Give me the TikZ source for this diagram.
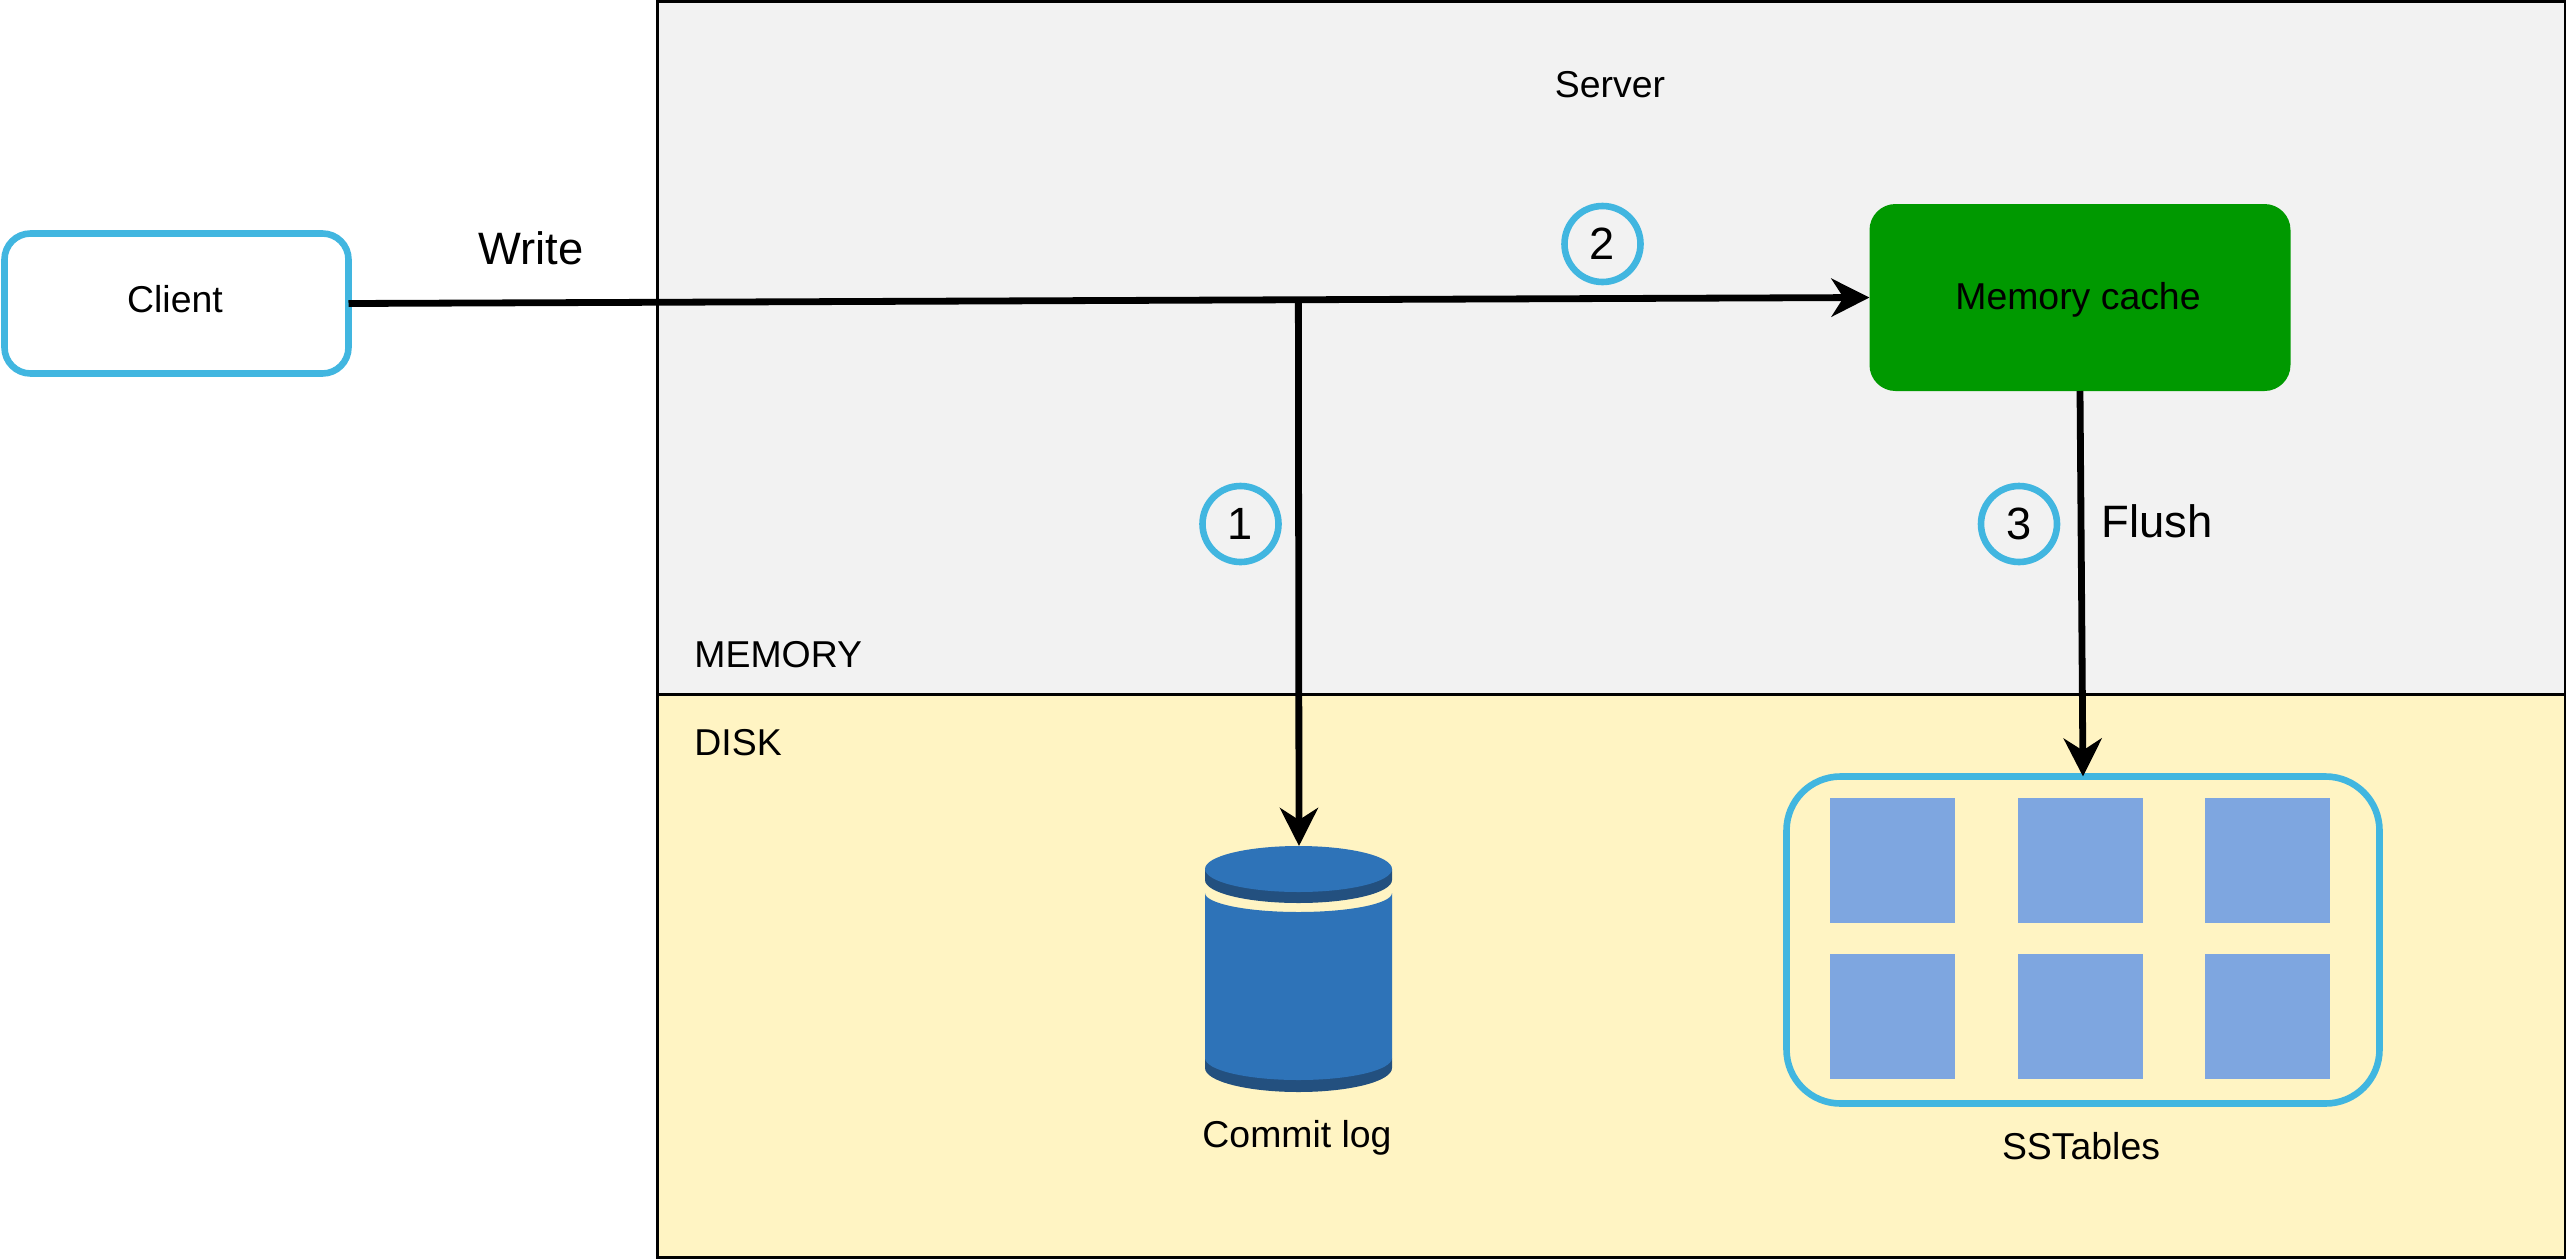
\documentclass[tikz,border=0pt]{standalone}
\usepackage{fontspec}
\setmainfont{Liberation Sans}
\usetikzlibrary{arrows.meta}
\definecolor{sky}{HTML}{41B6E0}
\definecolor{cyl}{HTML}{2E73B8}
\definecolor{cyldark}{HTML}{23507F}
\definecolor{sq}{HTML}{7EA6E0}
\definecolor{memfill}{HTML}{F2F2F2}
\definecolor{diskfill}{HTML}{FFF4C3}
\definecolor{cachefill}{HTML}{009900}
\tikzset{
  zone/.style={draw=black,line width=1.5pt,inner sep=0pt,outer sep=0pt},
  skybox/.style={draw=sky,line width=3.3pt,fill=white,inner sep=0pt,outer sep=0pt},
  stepnum/.style={circle,draw=sky,line width=3.3pt,inner sep=0pt,outer sep=0pt,minimum size=38pt,font=\fontsize{22.6pt}{26pt}\selectfont},
  small/.style={font=\fontsize{18.7pt}{22pt}\selectfont,inner sep=0pt},
  big/.style={font=\fontsize{22.7pt}{26pt}\selectfont,inner sep=0pt},
  tile/.style={fill=sq,inner sep=0pt,outer sep=0pt,minimum width=62.5pt,minimum height=62.5pt},
  conn/.style={line width=3.4pt,draw=black,-{Stealth[length=19pt,width=19pt,inset=6pt]}},
}
\begin{document}
\begin{tikzpicture}[x=0.5pt,y=-0.5pt]
\useasboundingbox (0,0) rectangle (2566,1259);
% zones
\node[zone,fill=memfill,minimum width=954pt,minimum height=346.5pt] (memzone) at (1611,347.5) {};
\node[zone,fill=diskfill,minimum width=954pt,minimum height=281.5pt] (diskzone) at (1611,975.5) {};
\node[small] (server) at (1610,85) {Server};
\node[small,anchor=west] (memlabel) at (694,655) {MEMORY};
\node[small,anchor=west] (disklabel) at (694,742.5) {DISK};
% client and cache
\node[skybox,rounded corners=13pt,minimum width=172pt,minimum height=70pt] (client) at (176.5,303.5) {};
\node[small] (clienttext) at (175,299) {Client};
\node[fill=cachefill,rounded corners=13pt,inner sep=0pt,outer sep=0pt,minimum width=210.5pt,minimum height=93.5pt] (cache) at (2080,297.5) {};
\node[small] (cachetext) at (2078,300) {Memory cache};
\node[big] (write) at (531,248.5) {Write};
% commit log cylinder
\node[inner sep=0pt,outer sep=0pt,minimum width=93.5pt,minimum height=123pt] (log) at (1299,969) {};
\fill[cyldark] (1205,1058) -- (1205,1068) arc[start angle=180,end angle=0,x radius=93.5,y radius=24] -- (1392,1058) -- cycle;
\fill[cyl] (1205,893) arc[start angle=180,end angle=0,x radius=93.5,y radius=19] -- (1392,1058) arc[start angle=0,end angle=180,x radius=93.5,y radius=22] -- cycle;
\fill[cyldark] (1205,869) -- (1205,880) arc[start angle=180,end angle=0,x radius=93.5,y radius=23] -- (1392,869) -- cycle;
\fill[cyl] (1298.5,869) ellipse[x radius=93.5,y radius=23];
\node[small] (logtext) at (1297,1138) {Commit log};
% SSTables
\node[draw=sky,line width=3.3pt,rounded corners=27pt,inner sep=0pt,outer sep=0pt,minimum width=296.5pt,minimum height=163.5pt] (sst) at (2083,940) {};
\node[tile] (t1) at (1892.5,860) {};
\node[tile] (t2) at (2080,860) {};
\node[tile] (t3) at (2267,860) {};
\node[tile] (t4) at (1892.5,1016) {};
\node[tile] (t5) at (2080,1016) {};
\node[tile] (t6) at (2267,1016) {};
\node[small] (ssttext) at (2081,1146) {SSTables};
% connectors
\draw[conn] (client.east) -- coordinate[pos=0.6245] (junction) (cache.west);
\draw[conn] (junction) -- (log.north);
\draw[conn] (cache.south) -- (sst.north);
% step markers
\node[stepnum] (s1) at (1240.5,524) {1};
\node[stepnum] (s2) at (1602.5,244) {2};
\node[stepnum] (s3) at (2019,524) {3};
\node[big] (flush) at (2157,521) {Flush};
\end{tikzpicture}
\end{document}
